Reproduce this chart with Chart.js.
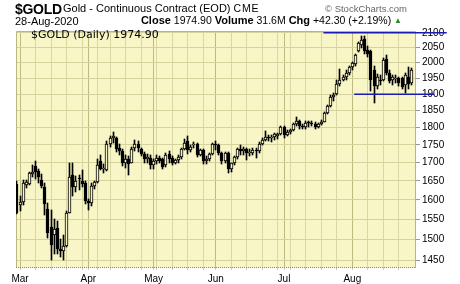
<!DOCTYPE html>
<html>
<head>
<meta charset="utf-8">
<script src="https://cdn.jsdelivr.net/npm/chart.js@4.4.1/dist/chart.umd.min.js"></script>
<style>
  body { margin: 0; background: #fff; }
  #wrap { position: relative; width: 460px; height: 284px; font-family: "Liberation Sans", Arial, sans-serif; color: #000; }
  #wrap canvas { position: absolute; left: 0; top: 0; }
  .t { position: absolute; white-space: nowrap; line-height: 1; }
  .b { font-weight: bold; font-size: 11px; }
</style>
</head>
<body>
<div id="wrap">
  <canvas id="goldChart" width="460" height="284"></canvas>
  <div class="t" style="left:15px;top:2px;font-size:14px;font-weight:bold;letter-spacing:-0.3px">$GOLD</div>
  <div class="t" style="left:63px;top:3px;font-size:11px">Gold - Continuous Contract (EOD) <span style="font-size:10.5px;letter-spacing:0.8px">CME</span></div>
  <div class="t" style="left:325px;top:4px;font-size:9.5px;color:#666">&copy; StockCharts.com</div>
  <div class="t" style="left:15px;top:16px;font-size:11px">28-Aug-2020</div>
  <div class="t" style="right:58px;top:15px;font-size:10.5px">
    <span class="b">Close</span> 1974.90
    <span class="b">Volume</span> 31.6M
    <span class="b">Chg</span> +42.30 (+2.19%) <span style="color:#2a8a2a;font-size:8px;vertical-align:1px">&#9650;</span>
  </div>
  <div class="t" style="left:31px;top:29px;font-size:11px;font-family:'DejaVu Sans',sans-serif">$GOLD (Daily) 1974.90</div>
</div>
<script>
// trading days shown (Feb 28 - Aug 28, 2020)
const dates = [
  '2020-02-28',
  '2020-03-02','2020-03-03','2020-03-04','2020-03-05','2020-03-06','2020-03-09','2020-03-10','2020-03-11','2020-03-12','2020-03-13',
  '2020-03-16','2020-03-17','2020-03-18','2020-03-19','2020-03-20','2020-03-23','2020-03-24','2020-03-25','2020-03-26','2020-03-27',
  '2020-03-30','2020-03-31',
  '2020-04-01','2020-04-02','2020-04-03','2020-04-06','2020-04-07','2020-04-08','2020-04-09','2020-04-13','2020-04-14','2020-04-15',
  '2020-04-16','2020-04-17','2020-04-20','2020-04-21','2020-04-22','2020-04-23','2020-04-24','2020-04-27','2020-04-28','2020-04-29',
  '2020-04-30',
  '2020-05-01','2020-05-04','2020-05-05','2020-05-06','2020-05-07','2020-05-08','2020-05-11','2020-05-12','2020-05-13','2020-05-14',
  '2020-05-15','2020-05-18','2020-05-19','2020-05-20','2020-05-21','2020-05-22','2020-05-26','2020-05-27','2020-05-28','2020-05-29',
  '2020-06-01','2020-06-02','2020-06-03','2020-06-04','2020-06-05','2020-06-08','2020-06-09','2020-06-10','2020-06-11','2020-06-12',
  '2020-06-15','2020-06-16','2020-06-17','2020-06-18','2020-06-19','2020-06-22','2020-06-23','2020-06-24','2020-06-25','2020-06-26',
  '2020-06-29','2020-06-30',
  '2020-07-01','2020-07-02','2020-07-06','2020-07-07','2020-07-08','2020-07-09','2020-07-10','2020-07-13','2020-07-14','2020-07-15',
  '2020-07-16','2020-07-17','2020-07-20','2020-07-21','2020-07-22','2020-07-23','2020-07-24','2020-07-27','2020-07-28','2020-07-29',
  '2020-07-30','2020-07-31',
  '2020-08-03','2020-08-04','2020-08-05','2020-08-06','2020-08-07','2020-08-10','2020-08-11','2020-08-12','2020-08-13','2020-08-14',
  '2020-08-17','2020-08-18','2020-08-19','2020-08-20','2020-08-21','2020-08-24','2020-08-25','2020-08-26','2020-08-27','2020-08-28'
];

const opens = [
  1643,
  1587,1594,1640,1643,1668,1691,1676,1652,1634,1576,1530,1510,1528,1478,1472,1484,1567,1665,1633,1655,1650,1645,
  1596,1591,1637,1646,1705,1683,1680,1752,1768,1770,1740,1733,1700,1711,1700,1740,1752,1737,1725,1710,1714,
  1694,1704,1713,1710,1692,1724,1712,1700,1706,1716,1738,1760,1734,1750,1752,1722,1735,1705,1711,1724,
  1751,1750,1728,1704,1727,1683,1698,1715,1738,1731,1737,1726,1727,1735,1731,1753,1765,1772,1768,1771,1775,1782,
  1800,1779,1786,1793,1809,1820,1803,1801,1814,1813,1811,1800,1810,1817,1842,1865,1890,1900,1932,1944,1953,1966,
  1985,1995,2040,2060,2078,2041,2040,1975,1925,1946,1945,2012,1968,1945,1947,1950,1950,1930,1955,1935
];
const highs = [
  1650,
  1611,1652,1652,1674,1692,1704,1682,1669,1645,1592,1575,1551,1545,1500,1510,1570,1700,1700,1664,1665,1680,1650,
  1602,1644,1650,1710,1720,1696,1760,1775,1788,1773,1752,1737,1720,1718,1745,1765,1760,1740,1730,1725,1720,
  1710,1720,1718,1712,1726,1732,1718,1710,1720,1740,1766,1775,1750,1757,1755,1738,1737,1718,1728,1755,
  1760,1752,1730,1730,1730,1700,1718,1740,1748,1745,1740,1738,1740,1740,1757,1770,1790,1779,1778,1785,1785,1805,
  1805,1792,1795,1812,1830,1823,1810,1818,1818,1820,1815,1812,1822,1845,1868,1898,1905,1945,1980,1962,1975,1990,
  2004,2030,2070,2089,2090,2055,2043,1990,1965,1960,2015,2024,1975,1960,1960,1955,1955,1966,1985,1982
];
const lows = [
  1563,
  1570,1586,1632,1640,1660,1655,1645,1630,1560,1504,1451,1465,1465,1458,1451,1482,1565,1610,1620,1625,1633,1588,
  1574,1585,1628,1645,1680,1672,1678,1745,1755,1730,1720,1690,1686,1666,1698,1732,1730,1718,1700,1700,1681,
  1681,1696,1700,1683,1688,1700,1693,1695,1700,1710,1735,1725,1730,1740,1716,1718,1696,1697,1705,1720,
  1735,1720,1695,1700,1671,1675,1692,1710,1720,1722,1708,1718,1720,1712,1728,1748,1760,1760,1758,1765,1767,1778,
  1770,1775,1780,1790,1805,1795,1795,1795,1800,1805,1795,1798,1808,1815,1840,1862,1880,1898,1925,1940,1945,1962,
  1976,1990,2035,2050,2030,2020,1910,1874,1915,1930,1940,1960,1935,1930,1935,1925,1915,1905,1915,1928
];
const closes = [
  1566,
  1594,1644,1646,1672,1674,1673,1660,1636,1590,1516,1486,1525,1477,1472,1484,1567,1660,1633,1651,1654,1643,1596,
  1591,1637,1646,1693,1683,1686,1752,1769,1776,1738,1731,1700,1711,1695,1738,1752,1740,1725,1710,1716,1694,
  1704,1713,1705,1689,1722,1710,1700,1706,1716,1738,1756,1734,1745,1752,1721,1735,1705,1711,1723,1751,
  1750,1726,1704,1727,1683,1698,1715,1738,1731,1737,1726,1727,1735,1731,1753,1763,1772,1768,1771,1781,1782,1800,
  1779,1786,1793,1809,1820,1803,1801,1814,1813,1811,1800,1810,1817,1842,1865,1890,1897,1931,1944,1953,1966,1986,
  2000,2025,2065,2075,2040,2028,1946,1926,1955,1940,2010,1968,1940,1955,1952,1935,1922,1960,1932.6,1974.9
];

const yTicks = [1450,1500,1550,1600,1650,1700,1750,1800,1850,1900,1950,2000,2050,2100];
const monthLabels = ['Mar','Apr','May','Jun','Jul','Aug'];

// drawn trend lines: [bar index, price]
const resistanceLine = [[98.7, 2100], [138.4, 2100]];
const supportLine = [[108.6, 1900], [134.4, 1900]];

const BG = '#f8f6c6';

// gridline positions: first bar of each week, and first bar of each month
const weekStarts = [];
const monthStarts = [];
dates.forEach((d, i) => {
  if (i === 0) return;
  const cur = new Date(d), prev = new Date(dates[i - 1]);
  if (cur.getUTCDay() < prev.getUTCDay() || (cur - prev) >= 7 * 864e5) weekStarts.push(i);
  if (cur.getUTCMonth() !== prev.getUTCMonth()) monthStarts.push(i);
});
const xTicks = Array.from(new Set(weekStarts.concat(monthStarts))).sort((a, b) => a - b);

const plotFrame = {
  id: 'plotFrame',
  beforeDraw(chart) {
    const { ctx, chartArea: a } = chart;
    ctx.save();
    ctx.fillStyle = BG;
    ctx.fillRect(a.left, a.top, a.right - a.left, a.bottom - a.top);
    ctx.restore();
  },
  beforeDatasetsDraw(chart) {
    const { ctx, chartArea: a } = chart;
    ctx.save();
    ctx.strokeStyle = '#b9b781';
    ctx.lineWidth = 1;
    ctx.beginPath();
    ctx.moveTo(a.left + 0.5, a.bottom);
    ctx.lineTo(a.left + 0.5, a.top + 0.5);
    ctx.lineTo(a.right - 0.5, a.top + 0.5);
    ctx.lineTo(a.right - 0.5, a.bottom);
    ctx.stroke();
    ctx.setLineDash([1, 1]);
    ctx.strokeStyle = '#8f8d60';
    ctx.beginPath();
    ctx.moveTo(a.left, a.bottom - 0.5);
    ctx.lineTo(a.right, a.bottom - 0.5);
    ctx.stroke();
    ctx.restore();
  }
};

// snap candle elements to whole pixels so they render crisp
const pixelSnap = {
  id: 'pixelSnap',
  afterDatasetsUpdate(chart) {
    chart.data.datasets.forEach((ds, k) => {
      const meta = chart.getDatasetMeta(k);
      if (meta.type !== 'bar') return;
      meta.data.forEach(el => {
        el.x = Math.floor(el.x) + 0.5;
        el.y = Math.round(el.y);
        el.base = Math.round(el.base);
      });
    });
  }
};

Chart.defaults.font.family = '"Liberation Sans", Arial, sans-serif';
Chart.defaults.font.size = 10;
Chart.defaults.color = '#000';

new Chart(document.getElementById('goldChart'), {
  type: 'bar',
  data: {
    datasets: [
      {
        type: 'line',
        data: resistanceLine.map(p => ({ x: p[0], y: p[1] })),
        borderColor: '#1b1bb0', borderWidth: 1.3, pointRadius: 0, clip: false, order: 0
      },
      {
        type: 'line',
        data: supportLine.map(p => ({ x: p[0], y: p[1] })),
        borderColor: '#1b1bb0', borderWidth: 1.3, pointRadius: 0, clip: false, order: 0
      },
      {
        label: 'body',
        data: dates.map((d, i) => ({ x: i, y: [opens[i], closes[i]] })),
        backgroundColor: ctx => closes[ctx.dataIndex] >= opens[ctx.dataIndex] ? BG : '#000',
        borderColor: '#000',
        borderWidth: 1,
        borderSkipped: false,
        barThickness: 3,
        minBarLength: 1,
        grouped: false,
        order: 1
      },
      {
        label: 'range',
        data: dates.map((d, i) => ({ x: i, y: [lows[i], highs[i]] })),
        backgroundColor: '#000',
        barThickness: 1,
        grouped: false,
        order: 2
      }
    ]
  },
  options: {
    responsive: false,
    animation: false,
    devicePixelRatio: 1,
    layout: { padding: { top: 31, left: 16, right: 0, bottom: 0 } },
    plugins: { legend: { display: false }, tooltip: { enabled: false } },
    scales: {
      x: {
        type: 'linear',
        min: -0.3,
        max: 128.5,
        bounds: 'data',
        offset: false,
        afterBuildTicks: scale => { scale.ticks = xTicks.map(v => ({ value: v })); },
        afterFit: scale => { scale.height = 16; },
        ticks: {
          autoSkip: false,
          maxRotation: 0,
          padding: 3,
          font: { size: 10 },
          callback: v => {
            const m = monthStarts.indexOf(v);
            return m >= 0 ? monthLabels[m] : '';
          }
        },
        grid: {
          offset: false,
          tickLength: 2,
          tickColor: '#c8c8c8',
          color: c => monthStarts.includes(c.tick && c.tick.value) ? '#bdbb7f' : '#d9d7a2'
        },
        border: { display: false }
      },
      y: {
        type: 'logarithmic',
        position: 'right',
        min: 1432,
        max: 2106,
        bounds: 'data',
        afterBuildTicks: scale => { scale.ticks = yTicks.map(v => ({ value: v })); },
        afterFit: scale => { scale.width = 44; },
        ticks: {
          padding: 2,
          font: { size: 10 },
          callback: v => String(v)
        },
        grid: { color: '#d5d39c', tickLength: 4, tickColor: '#9a9a8a' },
        border: { display: false }
      }
    }
  },
  plugins: [plotFrame, pixelSnap]
});
</script>
</body>
</html>
